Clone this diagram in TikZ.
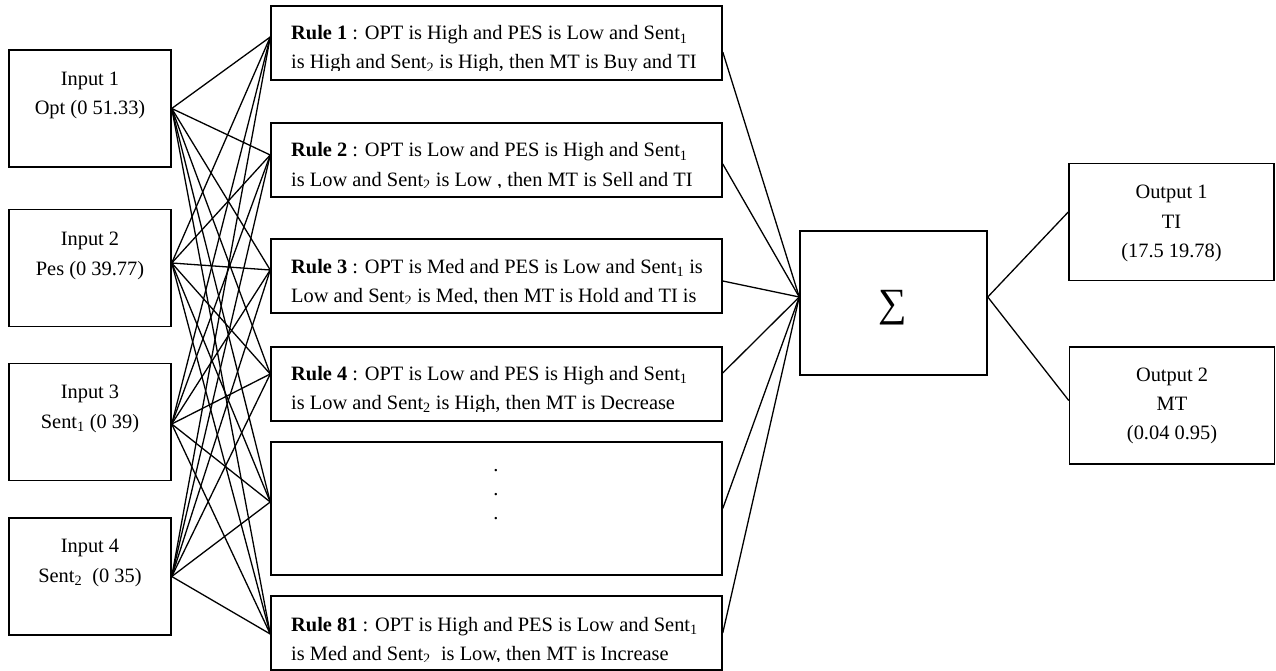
\documentclass[tikz,border=0pt]{standalone}
\usepackage{fontspec}
\setmainfont{Liberation Serif}
\begin{document}
\begin{tikzpicture}[x=1pt,y=-1pt,
  box/.style={draw, line width=1.5pt, rectangle, inner sep=0pt},
  inbox/.style={box, minimum width=162pt, minimum height=117pt},
  rulebox/.style={box, minimum width=451pt, minimum height=74pt},
  outbox/.style={box, minimum width=205pt, minimum height=117pt},
  conn/.style={line width=1.3pt},
  txt/.style={inner sep=0pt, font=\fontsize{20.4}{24}\selectfont, anchor=base},
  rtxt/.style={inner sep=0pt, font=\fontsize{20.4}{24}\selectfont, anchor=base west}]
\useasboundingbox (0,0) rectangle (1276,671);

% input boxes
\node[inbox] (in1) at (90,108.5) {};
\node[inbox] (in2) at (90,268) {};
\node[inbox] (in3) at (90,422) {};
\node[inbox] (in4) at (90,576.5) {};
\node[txt] (in1a) at (90,86) {Input 1};
\node[txt] (in1b) at (90,115) {Opt (0 51.33)};
\node[txt] (in2a) at (90,245) {Input 2};
\node[txt] (in2b) at (90,275) {Pes (0 39.77)};
\node[txt] (in3a) at (90,398) {Input 3};
\node[txt] (in3b) at (90,428) {Sent\textsubscript{1} (0 39)};
\node[txt] (in4a) at (90,552) {Input 4};
\node[txt] (in4b) at (90,582) {Sent\textsubscript{2}~ (0 35)};

% rule boxes
\node[rulebox] (r1) at (496.5,43) {};
\node[rulebox] (r2) at (496.5,160) {};
\node[rulebox] (r3) at (496.5,276) {};
\node[rulebox] (r4) at (496.5,384) {};
\node[rulebox, minimum height=133pt] (rd) at (496.5,508.5) {};
\node[rulebox] (r81) at (496.5,633) {};

\begin{scope}
\clip (r1.north west) rectangle ([yshift=10pt]r1.south east);
\node[rtxt] (r1a) at (291,40) {\textbf{Rule 1} : OPT is High and PES is Low and Sent\textsubscript{1}};
\node[rtxt] (r1b) at (291,69) {is High and Sent\textsubscript{2} is High, then MT is Buy and TI};
\end{scope}
\begin{scope}
\clip (r2.north west) rectangle ([yshift=10pt]r2.south east);
\node[rtxt] (r2a) at (291,157) {\textbf{Rule 2} : OPT is Low and PES is High and Sent\textsubscript{1}};
\node[rtxt] (r2b) at (291,186) {is Low and Sent\textsubscript{2} is Low , then MT is Sell and TI};
\end{scope}
\begin{scope}
\clip (r3.north west) rectangle ([yshift=10pt]r3.south east);
\node[rtxt] (r3a) at (291,273) {\textbf{Rule 3} : OPT is Med and PES is Low and Sent\textsubscript{1} is};
\node[rtxt] (r3b) at (291,302) {Low and Sent\textsubscript{2} is Med, then MT is Hold and TI is};
\end{scope}
\begin{scope}
\clip (r4.north west) rectangle ([yshift=10pt]r4.south east);
\node[rtxt] (r4a) at (291,380.5) {\textbf{Rule 4} : OPT is Low and PES is High and Sent\textsubscript{1}};
\node[rtxt] (r4b) at (291,409.5) {is Low and Sent\textsubscript{2} is High, then MT is Decrease};
\end{scope}
\begin{scope}
\clip (r81.north west) rectangle ([yshift=9pt]r81.south east);
\node[rtxt] (r81a) at (291,631) {\textbf{Rule 81} : OPT is High and PES is Low and Sent\textsubscript{1}};
\node[rtxt] (r81b) at (291,660) {is Med and Sent\textsubscript{2}~ is Low, then MT is Increase};
\end{scope}
\node[txt] (d1) at (496,471) {.};
\node[txt] (d2) at (496,495) {.};
\node[txt] (d3) at (496,519) {.};

% sum and outputs
\node[box, minimum width=187pt, minimum height=144pt] (sg) at (893.5,303) {};
\node[inner sep=0pt, font=\fontsize{40}{40}\selectfont] (sgt) at (893,308) {∑};
\node[outbox] (o1) at (1171.5,222) {};
\node[outbox] (o2) at (1172,405.5) {};
\node[txt] (o1a) at (1171.5,198) {Output 1};
\node[txt] (o1b) at (1171.5,228) {TI};
\node[txt] (o1c) at (1171.5,257) {(17.5 19.78)};
\node[txt] (o2a) at (1172,381) {Output 2};
\node[txt] (o2b) at (1172,410) {MT};
\node[txt] (o2c) at (1172,439) {(0.04 0.95)};

% attach points
\coordinate (in1R) at (in1.east);
\coordinate (in2R) at ([yshift=5pt]in2.east);
\coordinate (in3R) at ([yshift=-2pt]in3.east);
\coordinate (in4R) at (in4.east);
\coordinate (r1L) at ([yshift=6pt]r1.west);
\coordinate (r2L) at ([yshift=5pt]r2.west);
\coordinate (r3L) at ([yshift=6pt]r3.west);
\coordinate (r4L) at ([yshift=10pt]r4.west);
\coordinate (rdL) at ([yshift=6.5pt]rd.west);
\coordinate (r81L) at ([yshift=-1pt]r81.west);
\coordinate (r1R) at ([yshift=-9pt]r1.east);
\coordinate (r2R) at ([yshift=-4pt]r2.east);
\coordinate (r3R) at ([yshift=-5pt]r3.east);
\coordinate (r4R) at ([yshift=11pt]r4.east);
\coordinate (rdR) at (rd.east);
\coordinate (r81R) at (r81.east);
\coordinate (sgL) at ([yshift=6pt]sg.west);
\coordinate (sgR) at ([yshift=6pt]sg.east);
\coordinate (o1L) at ([yshift=10pt]o1.west);
\coordinate (o2L) at ([yshift=5pt]o2.west);

\foreach \i in {in1R,in2R,in3R,in4R}
  \foreach \r in {r1L,r2L,r3L,r4L,rdL,r81L}
    \draw[conn] (\i) -- (\r);
\foreach \r in {r1R,r2R,r3R,r4R,rdR,r81R}
  \draw[conn] (\r) -- (sgL);
\draw[conn] (sgR) -- (o1L);
\draw[conn] (sgR) -- (o2L);
\end{tikzpicture}
\end{document}
